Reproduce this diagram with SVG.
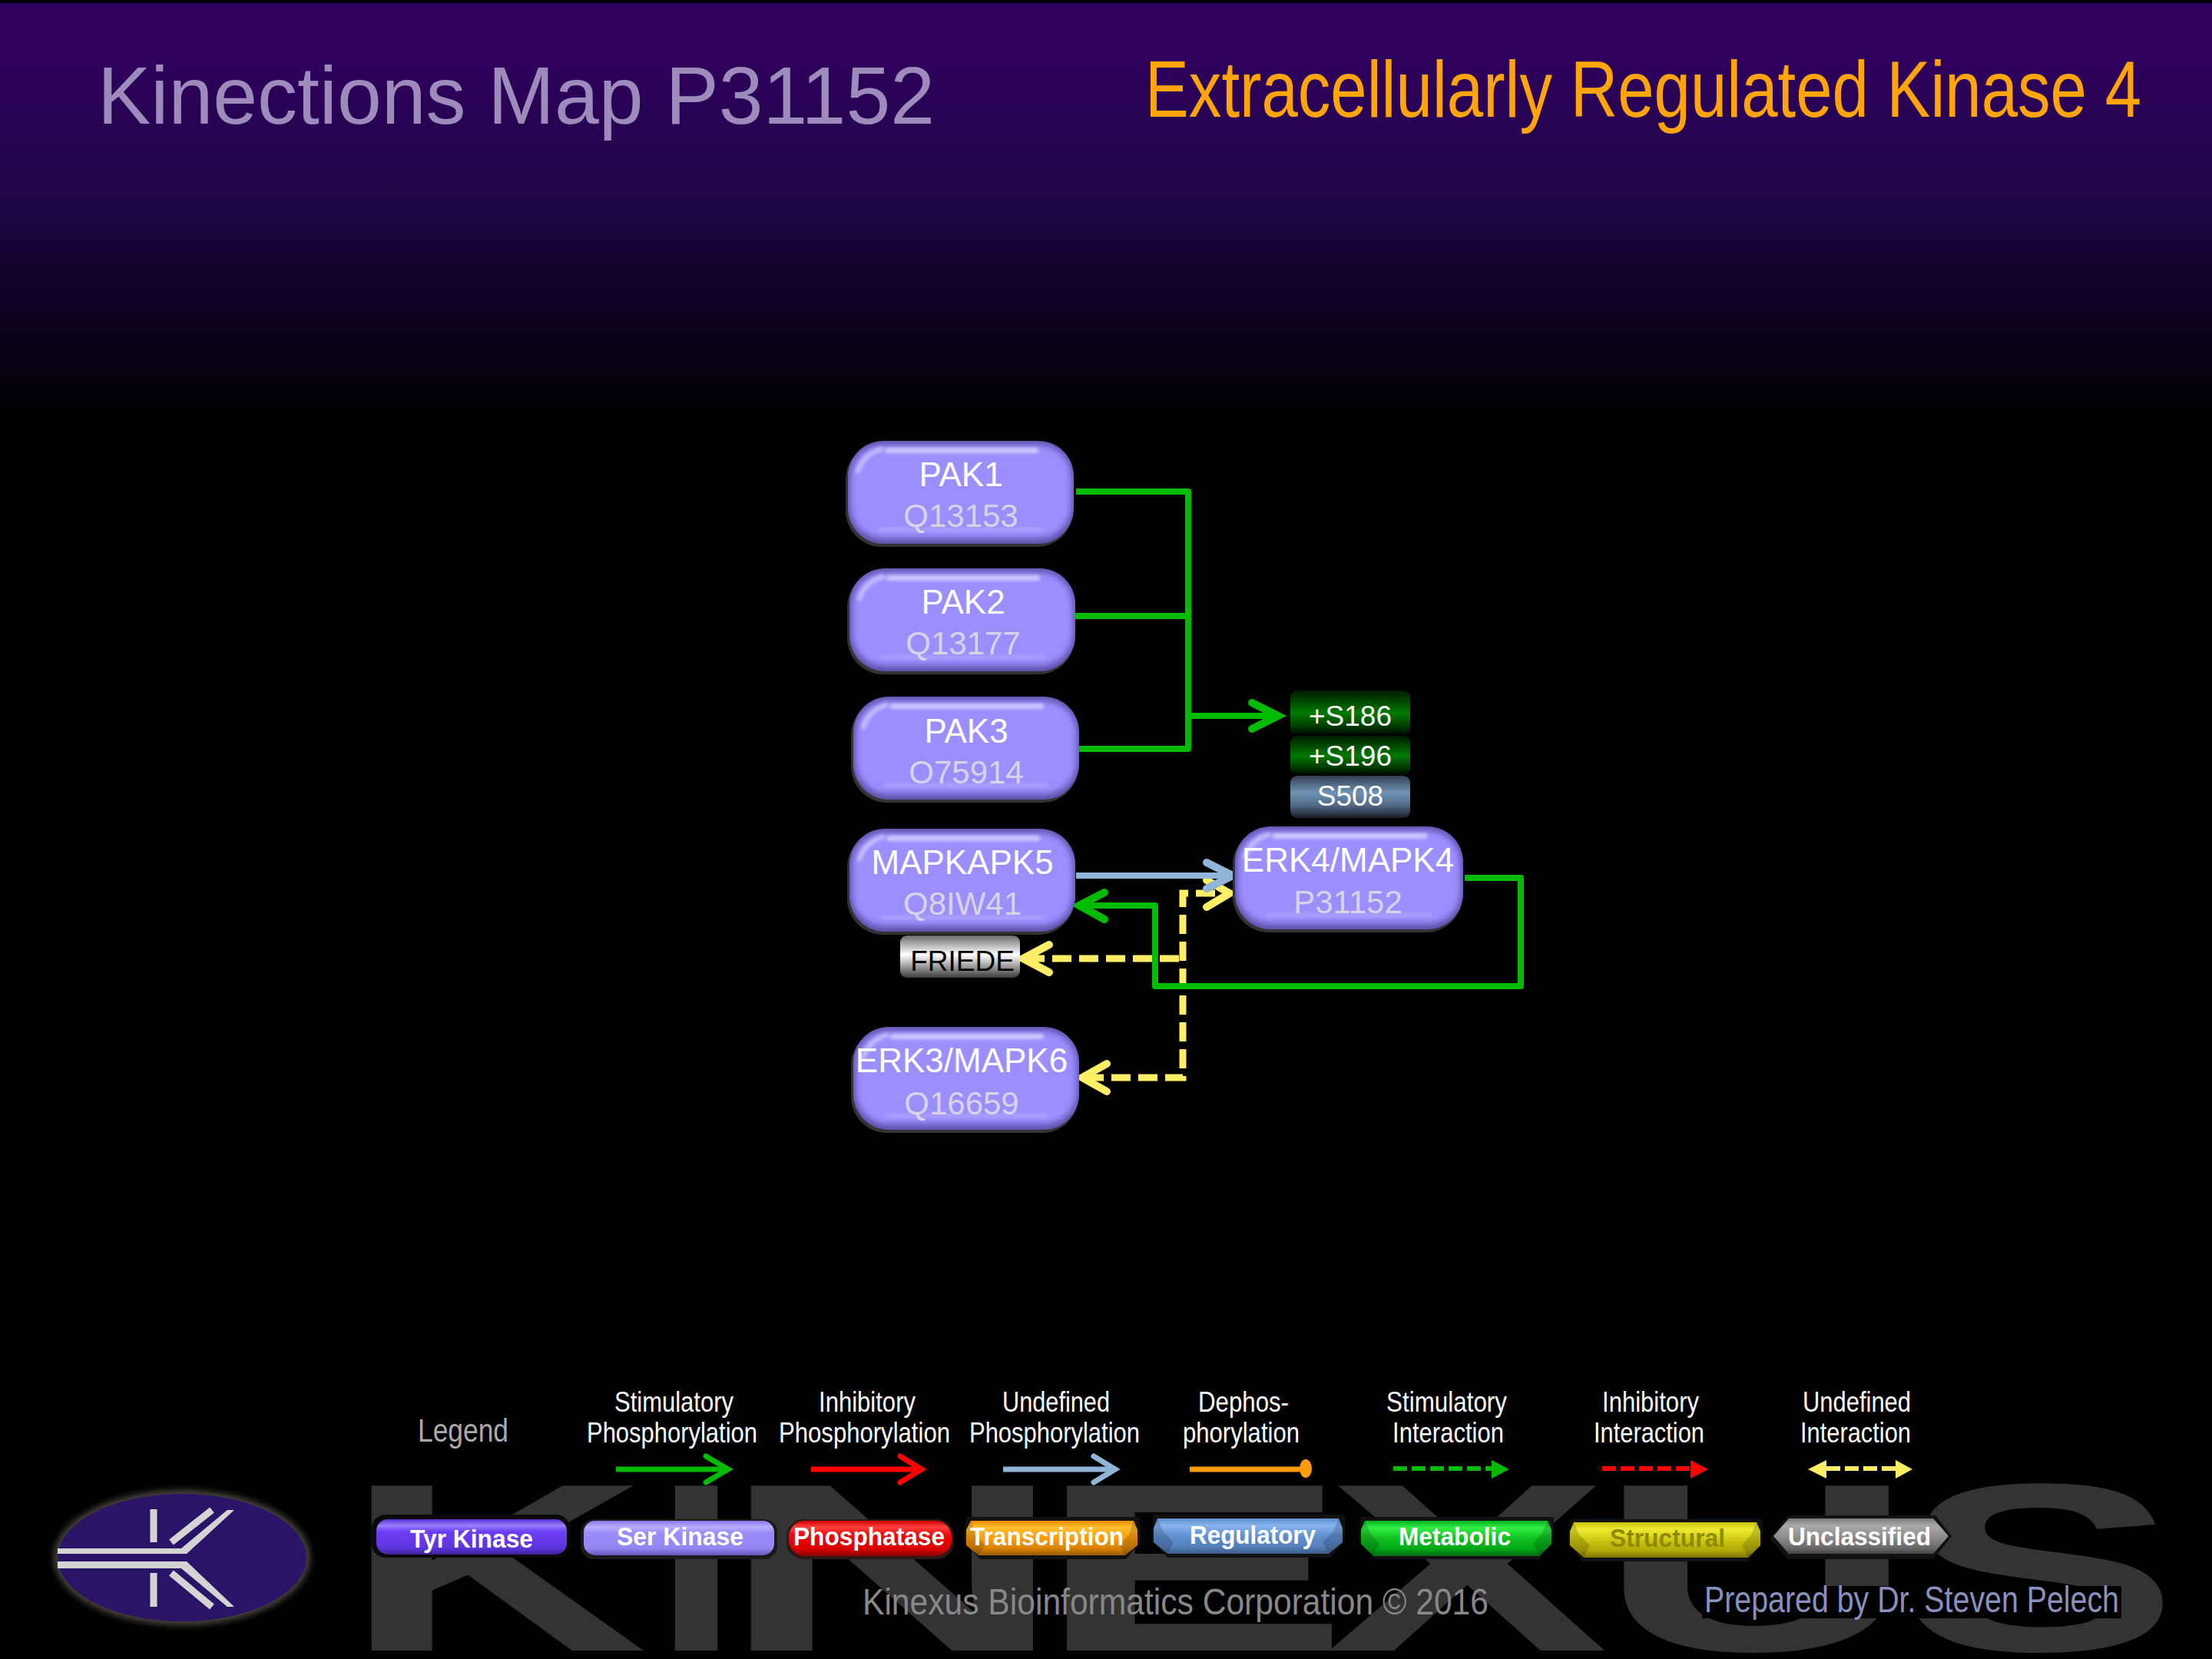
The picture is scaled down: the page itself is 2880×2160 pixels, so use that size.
<svg xmlns="http://www.w3.org/2000/svg" xmlns:xlink="http://www.w3.org/1999/xlink" width="2880" height="2160" viewBox="0 0 2880 2160">
<style>
text{font-family:"Liberation Sans",Arial,sans-serif}
.nm{font-size:44px;fill:#fff;text-anchor:middle}
.ac{font-size:42px;fill:#d8d4e6;text-anchor:middle}
.site{font-size:37px;fill:#fff;text-anchor:middle}
.lg{font-size:37px;fill:#fff}
.pl{font-size:33px;font-weight:bold;fill:#fff}
.g{fill:none;stroke:#00bb00;stroke-width:8;stroke-linejoin:round}
.b{fill:none;stroke:#8fb6d8;stroke-width:8}
.y{fill:none;stroke:#ffee66;stroke-width:9;stroke-dasharray:25 10}
.chev{fill:none;stroke-width:10;stroke-linecap:round;stroke-linejoin:miter}
.chevL{fill:none;stroke-width:7;stroke-linecap:round}
.shadow{fill:#111}
.bev{fill:#000;opacity:.16}
.bevl{fill:#fff;opacity:.14}
</style>
<defs>
<linearGradient id="bg" x1="0" y1="0" x2="0" y2="1"><stop offset="0" stop-color="#30005f"/><stop offset=".1" stop-color="#30005f"/><stop offset=".45" stop-color="#200648"/><stop offset=".75" stop-color="#0e0220"/><stop offset="1" stop-color="#000"/></linearGradient>
<linearGradient id="sG" x1="0" y1="0" x2="0" y2="1"><stop offset="0" stop-color="#001a00"/><stop offset=".25" stop-color="#004a00"/><stop offset=".5" stop-color="#007a00"/><stop offset=".8" stop-color="#003a00"/><stop offset="1" stop-color="#000"/></linearGradient>
<linearGradient id="bG" x1="0" y1="0" x2="0" y2="1"><stop offset="0" stop-color="#333f50"/><stop offset=".4" stop-color="#6f93b5"/><stop offset=".7" stop-color="#506a86"/><stop offset="1" stop-color="#1a1f28"/></linearGradient>
<linearGradient id="fG" x1="0" y1="0" x2="0" y2="1"><stop offset="0" stop-color="#6a6a6a"/><stop offset=".45" stop-color="#fff"/><stop offset=".65" stop-color="#bbb"/><stop offset="1" stop-color="#3a3a3a"/></linearGradient>
<linearGradient id="pTyr" x1="0" y1="0" x2="0" y2="1"><stop offset="0" stop-color="#5a30d8"/><stop offset=".18" stop-color="#9a80ff"/><stop offset=".35" stop-color="#6c3ef5"/><stop offset=".8" stop-color="#5f35e0"/><stop offset="1" stop-color="#3d2399"/></linearGradient>
<linearGradient id="pSer" x1="0" y1="0" x2="0" y2="1"><stop offset="0" stop-color="#8576ea"/><stop offset=".18" stop-color="#b8afff"/><stop offset=".35" stop-color="#9a8cfa"/><stop offset=".8" stop-color="#9486f2"/><stop offset="1" stop-color="#6558b8"/></linearGradient>
<linearGradient id="pPho" x1="0" y1="0" x2="0" y2="1"><stop offset="0" stop-color="#d00000"/><stop offset=".18" stop-color="#ff4040"/><stop offset=".4" stop-color="#ee0a0a"/><stop offset=".8" stop-color="#d80000"/><stop offset="1" stop-color="#8a0000"/></linearGradient>
<linearGradient id="pTra" x1="0" y1="0" x2="0" y2="1"><stop offset="0" stop-color="#e88c00"/><stop offset=".2" stop-color="#ffc030"/><stop offset=".5" stop-color="#ff9c0a"/><stop offset=".8" stop-color="#d98200"/><stop offset="1" stop-color="#9a5c00"/></linearGradient>
<linearGradient id="pReg" x1="0" y1="0" x2="0" y2="1"><stop offset="0" stop-color="#5d8fd0"/><stop offset=".2" stop-color="#86b4ee"/><stop offset=".5" stop-color="#5f90d0"/><stop offset=".8" stop-color="#5580bb"/><stop offset="1" stop-color="#3c5c88"/></linearGradient>
<linearGradient id="pMet" x1="0" y1="0" x2="0" y2="1"><stop offset="0" stop-color="#00b020"/><stop offset=".2" stop-color="#33ee44"/><stop offset=".5" stop-color="#10c020"/><stop offset=".8" stop-color="#00a818"/><stop offset="1" stop-color="#006a10"/></linearGradient>
<linearGradient id="pStr" x1="0" y1="0" x2="0" y2="1"><stop offset="0" stop-color="#c8c010"/><stop offset=".2" stop-color="#f0ea30"/><stop offset=".5" stop-color="#cfc810"/><stop offset=".8" stop-color="#b0a808"/><stop offset="1" stop-color="#7a7400"/></linearGradient>
<linearGradient id="pUnc" x1="0" y1="0" x2="0" y2="1"><stop offset="0" stop-color="#777"/><stop offset=".2" stop-color="#aaa"/><stop offset=".55" stop-color="#8a8a8a"/><stop offset=".85" stop-color="#666"/><stop offset="1" stop-color="#444"/></linearGradient>
<filter id="b5" x="-10%" y="-20%" width="120%" height="140%"><feGaussianBlur stdDeviation="4"/></filter>
<filter id="b2" x="-10%" y="-60%" width="120%" height="220%"><feGaussianBlur stdDeviation="2"/></filter>
<filter id="b3" x="-10%" y="-10%" width="120%" height="120%"><feGaussianBlur stdDeviation="4"/></filter>
<clipPath id="nc"><rect width="294" height="134" rx="46"/></clipPath>
<g id="pill">
<rect x="-3" y="3" width="296" height="135" rx="47" fill="#333"/>
<rect width="294" height="134" rx="46" fill="#5c50a8"/>
<g clip-path="url(#nc)">
<rect x="3" y="5" width="288" height="122" rx="42" fill="#9b8eff" filter="url(#b5)"/>
<rect x="48" y="9" width="200" height="7" rx="3" fill="#e4e0ff" opacity=".75" filter="url(#b2)"/>
<path d="M12 42Q20 16 46 10" fill="none" stroke="#e4e0ff" stroke-width="6" opacity=".6" filter="url(#b2)"/>
<rect x="40" y="113" width="214" height="5" fill="#b8afff" opacity=".6" filter="url(#b2)"/>
</g>
</g>
</defs>

<rect width="2880" height="2160" fill="#000"/>
<rect y="4" width="2880" height="546" fill="url(#bg)"/>

<g id="watermark">
<text y="2149" font-size="312" font-weight="bold" fill="#333"><tspan x="447" textLength="396" lengthAdjust="spacingAndGlyphs">K</tspan><tspan x="853" textLength="107" lengthAdjust="spacingAndGlyphs">I</tspan><tspan x="936" textLength="451" lengthAdjust="spacingAndGlyphs">N</tspan><tspan x="1348" textLength="410" lengthAdjust="spacingAndGlyphs">E</tspan><tspan x="1726" textLength="368" lengthAdjust="spacingAndGlyphs">X</tspan><tspan x="2080" textLength="414" lengthAdjust="spacingAndGlyphs">U</tspan><tspan x="2475" textLength="362" lengthAdjust="spacingAndGlyphs">S</tspan></text>
</g>

<g id="titles">
<text x="127" y="161" font-size="105" fill="#9d8cbb" textLength="1090" lengthAdjust="spacingAndGlyphs">Kinections Map P31152</text>
<text x="1491" y="152" font-size="103" fill="#ffa50a" textLength="1297" lengthAdjust="spacingAndGlyphs">Extracellularly Regulated Kinase 4</text>
</g>

<g id="logo">
<ellipse cx="237" cy="2028" rx="167" ry="88" fill="#4a443c" filter="url(#b3)"/>
<ellipse cx="237" cy="2028" rx="162" ry="83" fill="#2a1468"/>
<path d="M75 2016H236L296 1966H305L243 2023H75Z M75 2033H243L305 2092H296L236 2042H75Z" fill="#d4d4d4"/>
<path d="M200 1965V2008M200 2048V2092M223 2008L276 1966M223 2048L276 2092" fill="none" stroke="#d4d4d4" stroke-width="9"/>
</g>

<g id="connectors">
<path class="g" d="M1401 640H1547V975H1405"/>
<path class="g" d="M1400 802H1547"/>
<path class="g" d="M1547 932H1662"/>
<path class="chev" stroke="#00bb00" d="M1630 915L1664 932L1630 949"/>
<path class="y" d="M1335 1248H1540M1412 1403H1540V1163H1596"/>
<path class="chev" stroke="#ffee66" d="M1571 1146L1601 1163L1571 1181"/>
<path class="chev" stroke="#ffee66" d="M1366 1230L1332 1248L1366 1266"/>
<path class="chev" stroke="#ffee66" d="M1441 1385L1409 1403L1441 1421"/>
<path class="b" d="M1401 1140H1603"/>
<path class="chev" stroke="#8fb6d8" d="M1571 1123L1605 1140L1571 1157"/>
<path class="g" d="M1907 1143H1980V1284H1504V1179H1407"/>
<path class="chev" stroke="#00bb00" d="M1438 1162L1405 1179L1438 1197"/>
</g>

<g id="pak1"><use xlink:href="#pill" href="#pill" transform="translate(1104 574)"/><text class="nm" x="1251" y="633">PAK1</text><text class="ac" x="1251" y="686">Q13153</text></g>
<g id="pak2"><use xlink:href="#pill" href="#pill" transform="translate(1106 740)"/><text class="nm" x="1254" y="799">PAK2</text><text class="ac" x="1254" y="852">Q13177</text></g>
<g id="pak3"><use xlink:href="#pill" href="#pill" transform="translate(1111 907)"/><text class="nm" x="1258" y="967">PAK3</text><text class="ac" x="1258" y="1020">O75914</text></g>
<g id="mapkapk5"><use xlink:href="#pill" href="#pill" transform="translate(1106 1079)"/><text class="nm" x="1253" y="1138">MAPKAPK5</text><text class="ac" x="1253" y="1191">Q8IW41</text></g>
<g id="erk3"><use xlink:href="#pill" href="#pill" transform="translate(1111 1337)"/><text class="nm" x="1252" y="1396">ERK3/MAPK6</text><text class="ac" x="1252" y="1451">Q16659</text></g>
<g id="erk4"><use xlink:href="#pill" href="#pill" transform="translate(1608 1076) scale(1.01 1)"/><text class="nm" x="1755" y="1135">ERK4/MAPK4</text><text class="ac" x="1755" y="1189">P31152</text></g>

<g id="s186"><rect x="1680" y="899" width="156" height="59" rx="9" fill="url(#sG)"/><text class="site" x="1758" y="945">+S186</text></g>
<g id="s196"><rect x="1680" y="958" width="156" height="52" rx="9" fill="url(#sG)"/><text class="site" x="1758" y="997">+S196</text></g>
<g id="s508"><rect x="1680" y="1010" width="156" height="55" rx="9" fill="url(#bG)"/><text class="site" x="1758" y="1049">S508</text></g>
<g id="friede"><rect x="1172" y="1218" width="156" height="55" rx="9" fill="url(#fG)"/><text class="site" x="1253" y="1264" style="fill:#000">FRIEDE</text></g>

<g id="legend">
<text x="544" y="1877" font-size="42" fill="#aaa" textLength="118" lengthAdjust="spacingAndGlyphs">Legend</text>
<text class="lg" x="800" y="1838" textLength="155" lengthAdjust="spacingAndGlyphs">Stimulatory</text>
<text class="lg" x="764" y="1878" textLength="222" lengthAdjust="spacingAndGlyphs">Phosphorylation</text>
<text class="lg" x="1066" y="1838" textLength="126" lengthAdjust="spacingAndGlyphs">Inhibitory</text>
<text class="lg" x="1014" y="1878" textLength="223" lengthAdjust="spacingAndGlyphs">Phosphorylation</text>
<text class="lg" x="1305" y="1838" textLength="140" lengthAdjust="spacingAndGlyphs">Undefined</text>
<text class="lg" x="1262" y="1878" textLength="222" lengthAdjust="spacingAndGlyphs">Phosphorylation</text>
<text class="lg" x="1560" y="1838" textLength="118" lengthAdjust="spacingAndGlyphs">Dephos-</text>
<text class="lg" x="1540" y="1878" textLength="152" lengthAdjust="spacingAndGlyphs">phorylation</text>
<text class="lg" x="1805" y="1838" textLength="157" lengthAdjust="spacingAndGlyphs">Stimulatory</text>
<text class="lg" x="1813" y="1878" textLength="145" lengthAdjust="spacingAndGlyphs">Interaction</text>
<text class="lg" x="2086" y="1838" textLength="126" lengthAdjust="spacingAndGlyphs">Inhibitory</text>
<text class="lg" x="2075" y="1878" textLength="144" lengthAdjust="spacingAndGlyphs">Interaction</text>
<text class="lg" x="2347" y="1838" textLength="141" lengthAdjust="spacingAndGlyphs">Undefined</text>
<text class="lg" x="2344" y="1878" textLength="144" lengthAdjust="spacingAndGlyphs">Interaction</text>
</g>

<g id="legend-arrows">
<path d="M802 1913H946" stroke="#00bb00" stroke-width="7" fill="none"/><path class="chevL" stroke="#00bb00" d="M919 1896L948 1913L919 1930"/>
<path d="M1056 1913H1198" stroke="#ff0000" stroke-width="7" fill="none"/><path class="chevL" stroke="#ff0000" d="M1172 1896L1200 1913L1172 1930"/>
<path d="M1306 1913H1450" stroke="#8fb6d8" stroke-width="7" fill="none"/><path class="chevL" stroke="#8fb6d8" d="M1424 1896L1452 1913L1424 1930"/>
<path d="M1549 1913H1695" stroke="#ff9a0a" stroke-width="7" fill="none"/><ellipse cx="1700" cy="1912" rx="8" ry="12" fill="#ff9a0a"/>
<path d="M1814 1912H1942" stroke="#00bb00" stroke-width="6" stroke-dasharray="18 6" fill="none"/><path d="M1942 1901L1965 1913L1942 1925Z" fill="#00bb00"/>
<path d="M2086 1912H2201" stroke="#ff0000" stroke-width="6" stroke-dasharray="18 6" fill="none"/><path d="M2201 1901L2224 1913L2201 1925Z" fill="#ff0000"/>
<path d="M2378 1912H2468" stroke="#ffee66" stroke-width="6" stroke-dasharray="18 6" fill="none"/><path d="M2378 1901L2354 1913L2378 1925Z M2468 1901L2490 1913L2468 1925Z" fill="#ffee66"/>
</g>

<g id="tyr-kinase"><rect x="484" y="1972" width="258" height="56" rx="18" fill="#0a0a0a"/><rect x="490" y="1978" width="248" height="46" rx="15" fill="url(#pTyr)"/><text class="pl" x="534" y="2015" textLength="160" lengthAdjust="spacingAndGlyphs">Tyr Kinase</text></g>
<g id="ser-kinase"><rect x="756" y="1978" width="256" height="52" rx="17" fill="#1a1a1a"/><rect x="760" y="1980" width="248" height="45" rx="15" fill="url(#pSer)"/><text class="pl" x="803" y="2012" textLength="165" lengthAdjust="spacingAndGlyphs">Ser Kinase</text></g>
<g id="phosphatase"><rect x="1024" y="1978" width="218" height="52" rx="22" fill="#2a1a1a"/><rect x="1027" y="1980" width="212" height="46" rx="21" fill="url(#pPho)"/><text class="pl" x="1033" y="2012" textLength="197" lengthAdjust="spacingAndGlyphs">Phosphatase</text></g>
<g id="transcription"><path class="shadow" d="M1254 2006L1276 2030H1466L1486 2006L1483 1975H1258Z"/><path fill="url(#pTra)" d="M1264 1980H1476L1481 1992V2012L1465 2025H1274L1258 2012V1992Z"/><path class="bev" d="M1476 1980L1481 1992V2012L1465 2025L1458 2012L1470 1998Z"/><path class="bev" d="M1264 1980L1258 1992V2012L1274 2025L1282 2012L1270 1998Z"/><text class="pl" x="1263" y="2012" textLength="200" lengthAdjust="spacingAndGlyphs">Transcription</text></g>
<g id="regulatory"><path class="shadow" d="M1499 2005L1520 2028H1732L1751 2005V1972H1502Z"/><path fill="url(#pReg)" d="M1507 1977H1743L1748 1990V2008L1730 2023H1520L1502 2008V1990Z"/><path class="bev" d="M1743 1977L1748 1990V2008L1730 2023L1722 2008L1736 1994Z"/><path class="bev" d="M1507 1977L1502 1990V2008L1520 2023L1528 2008L1514 1994Z"/><text class="pl" x="1549" y="2010" textLength="164" lengthAdjust="spacingAndGlyphs">Regulatory</text></g>
<g id="metabolic"><path class="shadow" d="M1769 2005L1790 2030H2005L2023 2005V1975H1772Z"/><path fill="url(#pMet)" d="M1777 1980H2015L2020 1992V2010L2004 2026H1788L1772 2010V1992Z"/><path class="bev" d="M2015 1980L2020 1992V2010L2004 2026L1996 2010L2008 1996Z"/><path class="bev" d="M1777 1980L1772 1992V2010L1788 2026L1796 2010L1784 1996Z"/><text class="pl" x="1821" y="2012" textLength="146" lengthAdjust="spacingAndGlyphs">Metabolic</text></g>
<g id="structural"><path class="shadow" d="M2041 2008L2060 2033H2276L2295 2008V1978H2044Z"/><path fill="url(#pStr)" d="M2049 1982H2287L2292 1994V2012L2276 2028H2062L2044 2012V1994Z"/><path class="bev" d="M2287 1982L2292 1994V2012L2276 2028L2268 2012L2280 1998Z"/><path class="bev" d="M2049 1982L2044 1994V2012L2062 2028L2070 2012L2056 1998Z"/><text class="pl" x="2096" y="2014" textLength="150" lengthAdjust="spacingAndGlyphs" style="fill:#8f8a00">Structural</text></g>
<g id="unclassified"><path class="shadow" d="M2304 2003L2328 2030H2518L2541 2000L2520 1973H2328Z"/><path fill="url(#pUnc)" d="M2309 2000L2329 1977H2517L2537 2000L2517 2023H2329Z"/><text class="pl" x="2328" y="2012" textLength="186" lengthAdjust="spacingAndGlyphs">Unclassified</text></g>

<g id="footer">
<text x="1123" y="2102" font-size="48" fill="#888" textLength="815" lengthAdjust="spacingAndGlyphs">Kinexus Bioinformatics Corporation © 2016</text>
<rect x="2216" y="2065" width="546" height="42" fill="#000"/>
<text x="2219" y="2099" font-size="48" fill="#8a90bd" textLength="540" lengthAdjust="spacingAndGlyphs">Prepared by Dr. Steven Pelech</text>
</g>
</svg>
